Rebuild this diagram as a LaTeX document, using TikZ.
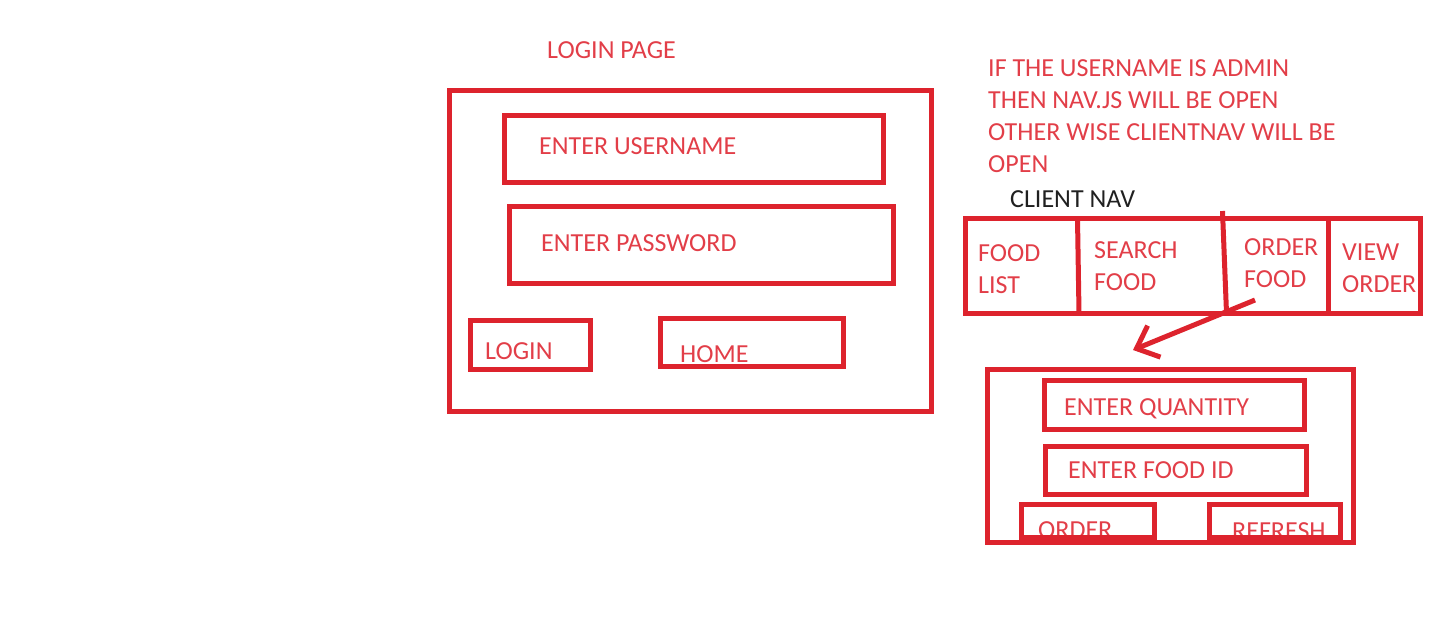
\documentclass[tikz,border=0pt]{standalone}
\usepackage{fontspec}
\setmainfont{Carlito}
\usepackage{tikz}
\usetikzlibrary{arrows.meta,positioning}
\definecolor{dfred}{RGB}{221,35,45}
\definecolor{dftext}{RGB}{226,62,72}
\definecolor{dfdark}{RGB}{32,32,32}
\tikzstyle{arrow} = [line width=5pt,-{Straight Barb[length=19pt,width=34pt]},color=dfred]
\tikzstyle{frame} = [rectangle, draw=dfred, line width=5pt, inner sep=0pt, outer sep=0pt, anchor=north west]
\tikzstyle{lbl} = [anchor=base west, inner sep=0pt, text=dftext, align=left, font=\fontsize{26}{32}\selectfont]
\begin{document}
\begin{tikzpicture}[x=1pt,y=-1pt]
\useasboundingbox (0,0) rectangle (1443,633);
% Login page
\node[lbl] (logintitle) at (547,58) {LOGIN PAGE};
\node[lbl] (usertxt) at (539,154) {ENTER USERNAME};
\node[lbl] (passtxt) at (541,251) {ENTER PASSWORD};
\node[lbl] (logintxt) at (485,359) {LOGIN};
\node[lbl] (hometxt) at (680,362) {HOME};
\node[frame, minimum width=482pt, minimum height=321.5pt] (loginpage) at (449.5,90) {};
\node[frame, minimum width=378.5pt, minimum height=66.5pt] (username) at (504.5,115.5) {};
\node[frame, minimum width=383.5pt, minimum height=76.5pt] (password) at (509.5,206.5) {};
\node[frame, minimum width=119.5pt, minimum height=49pt] (loginbtn) at (470.5,320.5) {};
\node[frame, minimum width=183pt, minimum height=48.5pt] (homebtn) at (660.5,318) {};
% Note (base = last line)
\node[lbl] (note) at (988,172) {IF THE USERNAME IS ADMIN\\THEN NAV.JS WILL BE OPEN\\OTHER WISE CLIENTNAV WILL BE\\OPEN};
% Client nav
\node[lbl, text=dfdark] (navtitle) at (1010,207) {CLIENT NAV};
\node[lbl] (foodlist) at (978,293) {FOOD\\LIST};
\node[lbl] (searchfood) at (1094,290) {SEARCH\\FOOD};
\node[lbl] (orderfood) at (1244,287) {ORDER\\FOOD};
\node[lbl] (vieworder) at (1342,292) {VIEW\\ORDER};
\node[frame, minimum width=455.5pt, minimum height=94.5pt] (clientnav) at (965,218.5) {};
\draw[dfred, line width=5pt] (1077.5,218.5) -- (1079,313);
\draw[dfred, line width=5pt] (1222.5,211) -- (1226.5,313);
\draw[dfred, line width=5pt] (1328.5,218.5) -- (1328.5,313);
% Order panel
\node[lbl] (qtytxt) at (1064,415) {ENTER QUANTITY};
\node[lbl] (idtxt) at (1068,478) {ENTER FOOD ID};
\node[lbl] (ordertxt) at (1038,538) {ORDER};
\node[lbl] (refreshtxt) at (1232,539) {REFRESH};
\node[frame, minimum width=366pt, minimum height=173pt] (orderpanel) at (987.5,369.5) {};
\node[frame, minimum width=260pt, minimum height=48.5pt] (quantity) at (1044,380.5) {};
\node[frame, minimum width=261pt, minimum height=47.5pt] (foodid) at (1045.5,446.5) {};
\node[frame, minimum width=132.5pt, minimum height=33.5pt] (orderbtn) at (1021.5,504) {};
\node[frame, minimum width=131pt, minimum height=33.5pt] (refreshbtn) at (1209.5,504) {};
% Arrow
\coordinate (ordertail) at (1255,300);
\coordinate (ordertip) at (1133,350);
\draw[arrow] (ordertail) -- (ordertip);
\end{tikzpicture}
\end{document}
